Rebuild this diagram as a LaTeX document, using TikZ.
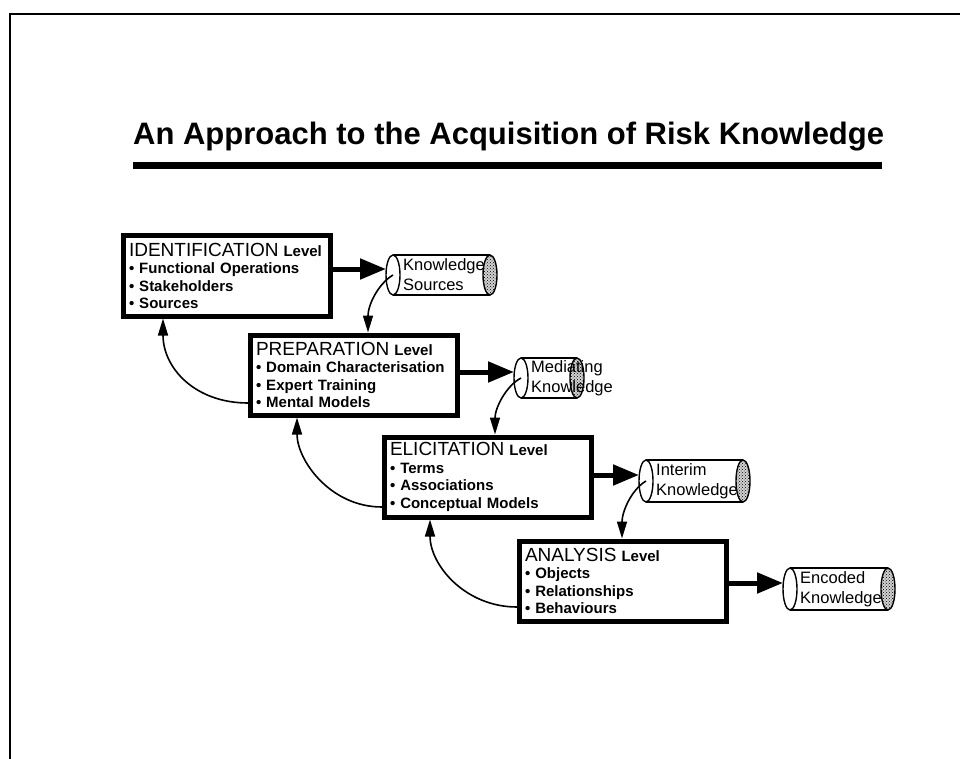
\documentclass[tikz,border=0pt]{standalone}
\usepackage{fontspec}
\setmainfont{Liberation Sans}
\usetikzlibrary{arrows.meta,calc,patterns}
\tikzset{
  lvl/.style={draw, line width=5pt, minimum width=207pt, minimum height=80pt,
    text width=196pt, inner xsep=5pt, inner ysep=2pt, align=left,
    font=\fontsize{15}{17.5}\selectfont\bfseries, fill=white},
  bigarr/.style={line width=5pt, -{Triangle[length=26pt,width=20pt]}},
  thinarr/.style={line width=1.6pt, -{Triangle[length=17pt,width=10pt]}},
  cyltext/.style={anchor=west, align=left, font=\fontsize{16.5}{20}\selectfont, inner sep=0pt},
  cylline/.style={line width=1.4pt},
}
\newcommand{\capword}[1]{{\mdseries\fontsize{19}{19}\selectfont #1}}
% name, x-left, x-right, y-centre, y-radius, text
\newcommand{\drawcyl}[6]{%
  \draw[cylline, fill=gray!35] (#3,#4) ellipse [x radius=7, y radius=#5];
  \fill[pattern=crosshatch dots] (#3,#4) ellipse [x radius=6, y radius=#5-1];
  \draw[cylline] (#2,#4-#5) -- (#3,#4-#5) (#2,#4+#5) -- (#3,#4+#5);
  \draw[cylline] (#2,#4) ellipse [x radius=7, y radius=#5];
  \coordinate (#1) at (#2,#4);
  \coordinate (#1-a) at (#2-7,#4-6);
  \node[cyltext] (#1-t) at (#2+10,#4) {#6};
}
\begin{document}
\begin{tikzpicture}[x=1pt,y=-1pt]
\useasboundingbox (0,0) rectangle (960,759);
\fill[white] (0,0) rectangle (960,759);
% frame
\draw[line width=1.5pt] (10,759) -- (10,14) -- (960,14);
% title
\node[anchor=base west, inner sep=0pt, font=\bfseries\fontsize{31}{36}\selectfont] (title) at (133,145)
  {An Approach to the Acquisition of Risk Knowledge};
\fill (133,162) rectangle (882,169);
% level boxes
\node[lvl] (ident) at (227,276) {\capword{IDENTIFICATION} Level\\• Functional Operations\\• Stakeholders\\• Sources};
\node[lvl] (prep) at (354,375) {\capword{PREPARATION} Level\\• Domain Characterisation\\• Expert Training\\• Mental Models};
\node[lvl] (elic) at (488,477) {\capword{ELICITATION} Level\\• Terms\\• Associations\\• Conceptual Models};
\node[lvl] (anal) at (623,581) {\capword{ANALYSIS} Level\\• Objects\\• Relationships\\• Behaviours};
% stores
\drawcyl{ks}{393}{490}{275}{20}{Knowledge\\Sources}
\drawcyl{mk}{521}{577}{378}{20}{Mediating\\Knowledge}
\drawcyl{ik}{646}{743}{481}{21}{Interim\\Knowledge}
\drawcyl{ek}{790}{888}{589}{21}{Encoded\\Knowledge}
% thick arrows
\draw[bigarr] (ident.east |- ks-a) -- (ks-a);
\draw[bigarr] (prep.east |- mk-a) -- (mk-a);
\draw[bigarr] (elic.east |- ik-a) -- (ik-a);
\draw[bigarr] (anal.east |- ek-a) -- (ek-a);
% store to next level
\draw[thinarr] (ks) .. controls (378,284) and (368,305) .. ($(prep.north)+(14,0)$);
\draw[thinarr] (mk) .. controls (506,386) and (495,408) .. ($(elic.north)+(7,0)$);
\draw[thinarr] (ik) .. controls (631,490) and (622,512) .. ($(anal.north)+(-1,0)$);
% feedback arrows
\draw[thinarr] ($(prep.west)+(0,28)$) .. controls (195,403) and (163,368) .. ($(ident.south)+(-64,0)$);
\draw[thinarr] ($(elic.west)+(0,30)$) .. controls (330,507) and (297,460) .. ($(prep.south)+(-57,0)$);
\draw[thinarr] ($(anal.west)+(0,26)$) .. controls (465,607) and (430,565) .. ($(elic.south)+(-58,0)$);
\end{tikzpicture}
\end{document}
